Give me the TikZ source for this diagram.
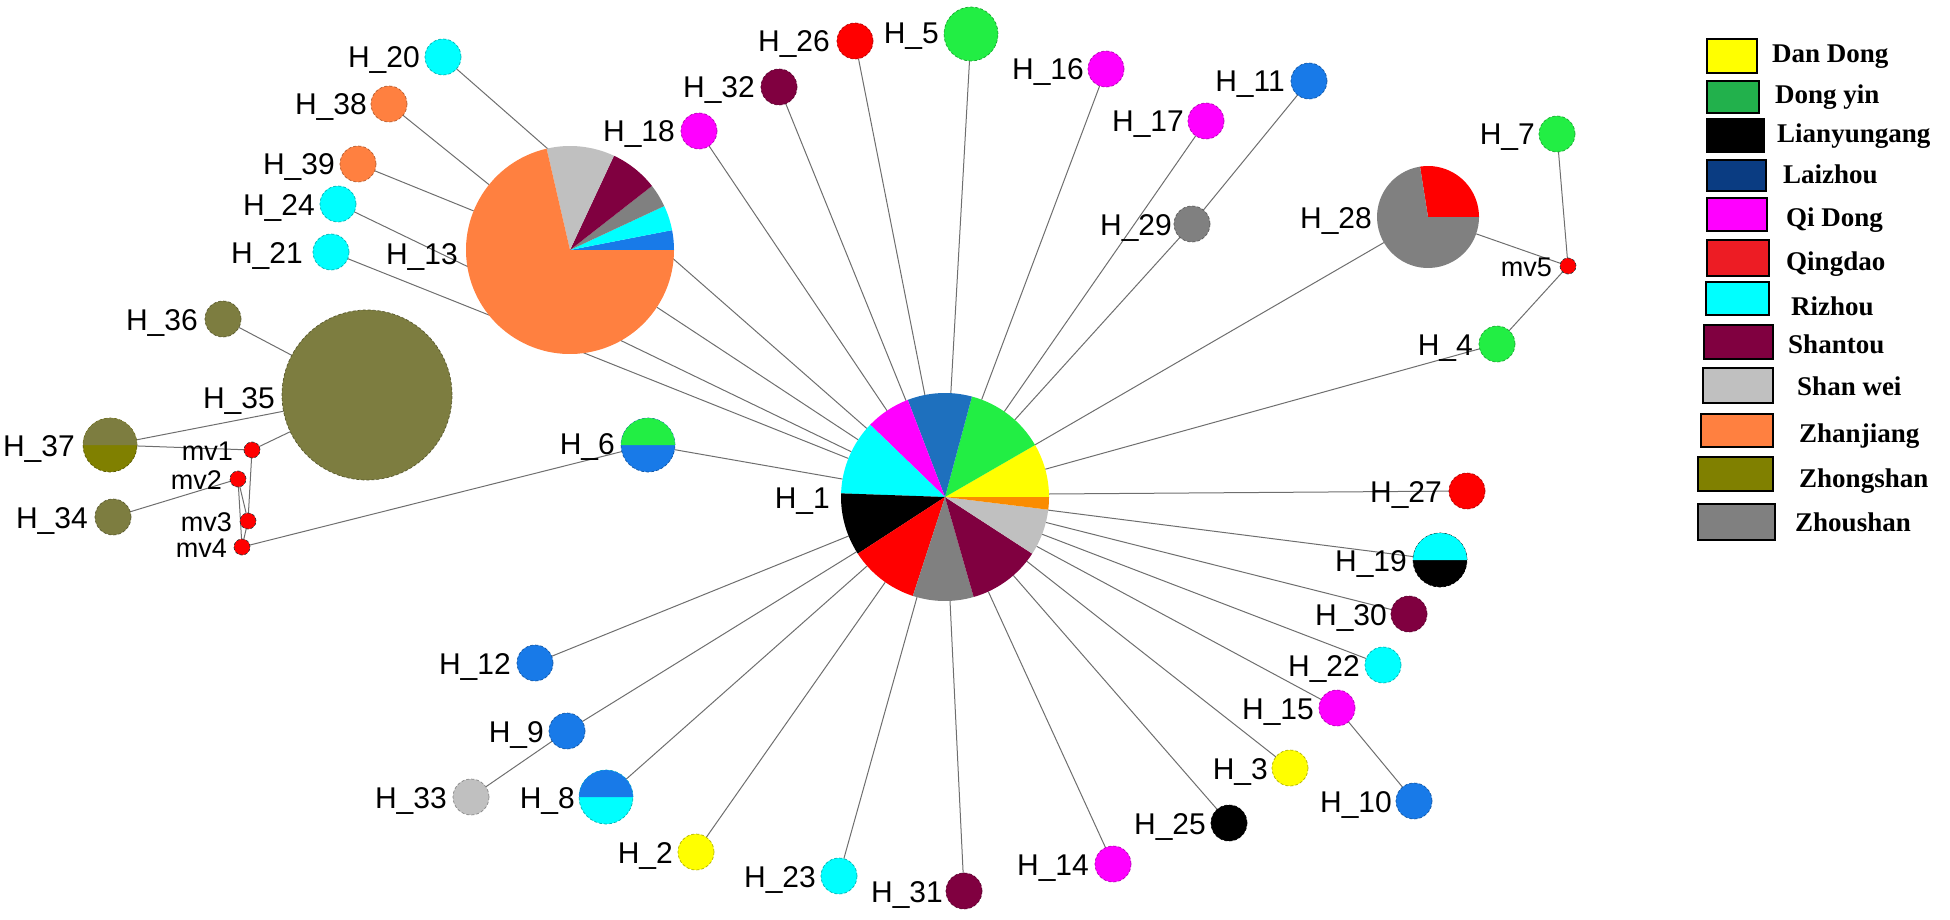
\documentclass[tikz,border=0pt]{standalone}
\usepackage{fontspec}
\setmainfont{Liberation Serif}
\newfontfamily\arialf{Liberation Sans}
\usetikzlibrary{backgrounds}
\definecolor{cYel}{RGB}{255,255,0}
\definecolor{cGrn}{RGB}{34,238,68}
\definecolor{cGrnL}{RGB}{34,177,76}
\definecolor{cBlu}{RGB}{24,122,232}
\definecolor{cBluP}{RGB}{30,112,190}
\definecolor{cBluL}{RGB}{10,60,130}
\definecolor{cMag}{RGB}{255,0,255}
\definecolor{cRed}{RGB}{255,0,0}
\definecolor{cRedL}{RGB}{237,28,36}
\definecolor{cCya}{RGB}{0,255,255}
\definecolor{cMar}{RGB}{128,0,64}
\definecolor{cLgr}{RGB}{192,192,192}
\definecolor{cOra}{RGB}{255,128,64}
\definecolor{cOraP}{RGB}{250,140,0}
\definecolor{cOli}{RGB}{125,125,64}
\definecolor{cOliD}{RGB}{128,128,0}
\definecolor{cGry}{RGB}{128,128,128}
\definecolor{cEdge}{RGB}{110,110,110}
\newcommand\pslice[5]{\fill[#5] (#1) -- ++(-#2:#4) arc[start angle=-#2, end angle=-#3, radius=#4] -- cycle;}
\newcommand\tophalf[3]{\fill[#3] (#1.east) arc[start angle=0, end angle=-180, radius=#2] -- cycle;}
\begin{document}
\begin{tikzpicture}[x=1pt,y=-1pt,
  hap/.style={circle, inner sep=0pt, outer sep=0pt, fill=#1, draw=#1!70!black, line width=0.7pt, densely dashed},
  r18/.style={minimum size=36pt},
  r27/.style={minimum size=54pt},
  r8/.style={minimum size=16pt},
  pienode/.style={circle, inner sep=0pt, outer sep=0pt, minimum size=#1},
  lab/.style={font=\arialf\fontsize{30}{30}\selectfont, inner sep=0pt, anchor=base east},
  mvlab/.style={font=\arialf\fontsize{27}{27}\selectfont, inner sep=0pt, anchor=base east},
  conn/.style={draw=cEdge, line width=1pt},
  legbox/.style={draw=black, line width=2pt, inner sep=0pt, outer sep=0pt},
  legt/.style={font=\bfseries\fontsize{27}{27}\selectfont, inner sep=0pt, anchor=base west}
]
\useasboundingbox (0,0) rectangle (1950,920);

% ---------- pies ----------
\node[pienode=208pt] (H1) at (945,497) {};
\pslice{H1.center}{0}{30}{104}{cYel}
\pslice{H1.center}{30}{75}{104}{cGrn}
\pslice{H1.center}{75}{111}{104}{cBluP}
\pslice{H1.center}{111}{136}{104}{cMag}
\pslice{H1.center}{136}{178}{104}{cCya}
\pslice{H1.center}{178}{213}{104}{black}
\pslice{H1.center}{213}{252}{104}{cRed}
\pslice{H1.center}{252}{286}{104}{cGry}
\pslice{H1.center}{286}{327}{104}{cMar}
\pslice{H1.center}{327}{353}{104}{cLgr}
\pslice{H1.center}{353}{360}{104}{cOraP}

\node[pienode=208pt] (H13) at (570,250) {};
\pslice{H13.center}{0}{11}{104}{cBlu}
\pslice{H13.center}{11}{25}{104}{cCya}
\pslice{H13.center}{25}{38}{104}{cGry}
\pslice{H13.center}{38}{65}{104}{cMar}
\pslice{H13.center}{65}{103}{104}{cLgr}
\pslice{H13.center}{103}{360}{104}{cOra}

\node[pienode=102pt] (H28) at (1428,217) {};
\pslice{H28.center}{0}{99}{51}{cRed}
\pslice{H28.center}{99}{360}{51}{cGry}

\node[hap=cOli, minimum size=170pt] (H35) at (367,395) {};

% ---------- two-colour nodes ----------
\node[hap=cBlu, r27] (H6) at (648,445) {};
\tophalf{H6}{27}{cGrn}
\node[hap=cCya, r27] (H8) at (606,797) {};
\tophalf{H8}{27}{cBlu}
\node[hap=black, r27] (H19) at (1440,560) {};
\tophalf{H19}{27}{cCya}
\node[hap=cOliD, r27] (H37) at (110,445) {};
\tophalf{H37}{27}{cOli}
\node[hap=cGrn, r27] (H5) at (971,34) {};

% ---------- small nodes ----------
\node[hap=cCya, r18] (H20) at (443,57) {};
\node[hap=cOra, r18] (H38) at (389,104) {};
\node[hap=cOra, r18] (H39) at (358,164) {};
\node[hap=cCya, r18] (H24) at (338,204) {};
\node[hap=cCya, r18] (H21) at (331,252) {};
\node[hap=cOli, r18] (H36) at (223,319) {};
\node[hap=cOli, r18] (H34) at (113,517) {};
\node[hap=cMag, r18] (H18) at (699,131) {};
\node[hap=cMar, r18] (H32) at (779,87) {};
\node[hap=cRed, r18] (H26) at (855,41) {};
\node[hap=cMag, r18] (H16) at (1106,69) {};
\node[hap=cMag, r18] (H17) at (1206,121) {};
\node[hap=cBlu, r18] (H11) at (1309,81) {};
\node[hap=cGry, r18] (H29) at (1192,224) {};
\node[hap=cGrn, r18] (H7) at (1557,134) {};
\node[hap=cGrn, r18] (H4) at (1497,344) {};
\node[hap=cRed, r18] (H27) at (1467,491) {};
\node[hap=cMar, r18] (H30) at (1409,614) {};
\node[hap=cCya, r18] (H22) at (1383,665) {};
\node[hap=cMag, r18] (H15) at (1337,708) {};
\node[hap=cBlu, r18] (H10) at (1414,801) {};
\node[hap=cYel, r18] (H3) at (1290,768) {};
\node[hap=black, r18] (H25) at (1229,823) {};
\node[hap=cMag, r18] (H14) at (1113,864) {};
\node[hap=cMar, r18] (H31) at (964,891) {};
\node[hap=cCya, r18] (H23) at (839,876) {};
\node[hap=cYel, r18] (H2) at (696,852) {};
\node[hap=cLgr, r18] (H33) at (471,797) {};
\node[hap=cBlu, r18] (H9) at (567,731) {};
\node[hap=cBlu, r18] (H12) at (535,663) {};

\node[hap=cRed, r8, draw=black!80] (mv1) at (252,450) {};
\node[hap=cRed, r8, draw=black!80] (mv2) at (238,479) {};
\node[hap=cRed, r8, draw=black!80] (mv3) at (248,521) {};
\node[hap=cRed, r8, draw=black!80] (mv4) at (242,547) {};
\node[hap=cRed, r8, draw=black!80] (mv5) at (1568,266) {};

% ---------- connectors ----------
\begin{pgfonlayer}{background}
\foreach \n in {H20,H24,H21,H13,H18,H32,H26,H5,H16,H17,H29,H28,H4,H19,H30,H22,H15,H3,H25,H14,H31,H23,H2,H8,H9,H12,H6}
  \draw[conn] (H1) -- (\n);
\draw[conn] (H1.center) ++(104,-3) coordinate (e27) (e27) -- (H27);
\draw[conn] (H13) -- (H38);
\draw[conn] (H13) -- (H39);
\draw[conn] (H29) -- (H11);
\draw[conn] (H28) -- (mv5);
\draw[conn] (mv5) -- (H7);
\draw[conn] (mv5) -- (H4);
\draw[conn] (H15) -- (H10);
\draw[conn] (H9) -- (H33);
\draw[conn] (H6) -- (mv4);
\draw[conn] (mv4) -- (mv3);
\draw[conn] (mv3) -- (mv1);
\draw[conn] (mv3) -- (mv2);
\draw[conn] (mv2) -- (mv4);
\draw[conn] (mv2) -- (H34);
\draw[conn] (mv1) -- (H37);
\draw[conn] (mv1) -- (H35);
\draw[conn] (H35) -- (H37);
\draw[conn] (H35) -- (H36);
\end{pgfonlayer}

% ---------- labels ----------
\node[lab] (lH1) at (830,508) {H\_1};
\node[lab] (lH13) at (458,264) {H\_13};
\node[lab] (lH35) at (275,408) {H\_35};
\node[lab] (lH28) at (1372,228) {H\_28};
\node[lab] (lH6) at (615,454) {H\_6};
\node[lab] (lH8) at (575,808) {H\_8};
\node[lab] (lH19) at (1407,571) {H\_19};
\node[lab] (lH37) at (75,456) {H\_37};
\node[lab] (lH5) at (939,44) {H\_5};
\node[lab] (lH20) at (420,68) {H\_20};
\node[lab] (lH38) at (367,115) {H\_38};
\node[lab] (lH39) at (335,175) {H\_39};
\node[lab] (lH24) at (315,215) {H\_24};
\node[lab] (lH21) at (303,263) {H\_21};
\node[lab] (lH36) at (198,330) {H\_36};
\node[lab] (lH34) at (88,528) {H\_34};
\node[lab] (lH18) at (675,142) {H\_18};
\node[lab] (lH32) at (755,98) {H\_32};
\node[lab] (lH26) at (830,52) {H\_26};
\node[lab] (lH16) at (1084,80) {H\_16};
\node[lab] (lH17) at (1184,132) {H\_17};
\node[lab] (lH11) at (1285,92) {H\_11};
\node[lab] (lH29) at (1172,235) {H\_29};
\node[lab] (lH7) at (1535,145) {H\_7};
\node[lab] (lH4) at (1473,355) {H\_4};
\node[lab] (lH27) at (1442,502) {H\_27};
\node[lab] (lH30) at (1387,625) {H\_30};
\node[lab] (lH22) at (1360,676) {H\_22};
\node[lab] (lH15) at (1314,719) {H\_15};
\node[lab] (lH10) at (1392,812) {H\_10};
\node[lab] (lH3) at (1268,779) {H\_3};
\node[lab] (lH25) at (1206,834) {H\_25};
\node[lab] (lH14) at (1089,875) {H\_14};
\node[lab] (lH31) at (943,902) {H\_31};
\node[lab] (lH23) at (816,887) {H\_23};
\node[lab] (lH2) at (673,863) {H\_2};
\node[lab] (lH33) at (447,808) {H\_33};
\node[lab] (lH9) at (544,742) {H\_9};
\node[lab] (lH12) at (511,674) {H\_12};
\node[mvlab] (lmv1) at (233,460) {mv1};
\node[mvlab] (lmv2) at (222,489) {mv2};
\node[mvlab] (lmv3) at (232,531) {mv3};
\node[mvlab] (lmv4) at (227,557) {mv4};
\node[mvlab] (lmv5) at (1552,276) {mv5};

% ---------- legend ----------
\node[legbox, fill=cYel, minimum width=50pt, minimum height=34pt] (lb1) at (1732,56) {};
\node[legt] (lt1) at (1772,63) {Dan Dong};
\node[legbox, fill=cGrnL, minimum width=52pt, minimum height=32pt] (lb2) at (1733,97) {};
\node[legt] (lt2) at (1775,104) {Dong yin};
\node[legbox, fill=black, minimum width=57pt, minimum height=33pt] (lb3) at (1735.5,136) {};
\node[legt] (lt3) at (1777,143) {Lianyungang};
\node[legbox, fill=cBluL, minimum width=59pt, minimum height=31pt] (lb4) at (1736.5,175.5) {};
\node[legt] (lt4) at (1783,183) {Laizhou};
\node[legbox, fill=cMag, minimum width=60pt, minimum height=33pt] (lb5) at (1737,214.5) {};
\node[legt] (lt5) at (1786,226) {Qi Dong};
\node[legbox, fill=cRedL, minimum width=62pt, minimum height=36pt] (lb6) at (1738,258) {};
\node[legt] (lt6) at (1786,270) {Qingdao};
\node[legbox, fill=cCya, minimum width=63pt, minimum height=33pt] (lb7) at (1737.5,298.5) {};
\node[legt] (lt7) at (1791,315) {Rizhou};
\node[legbox, fill=cMar, minimum width=69pt, minimum height=34pt] (lb8) at (1738.5,342) {};
\node[legt] (lt8) at (1788,353) {Shantou};
\node[legbox, fill=cLgr, minimum width=70pt, minimum height=35pt] (lb9) at (1738,385.5) {};
\node[legt] (lt9) at (1797,395) {Shan wei};
\node[legbox, fill=cOra, minimum width=72pt, minimum height=33pt] (lb10) at (1736.5,430.5) {};
\node[legt] (lt10) at (1799,442) {Zhanjiang};
\node[legbox, fill=cOliD, minimum width=75pt, minimum height=34pt] (lb11) at (1735.5,474) {};
\node[legt] (lt11) at (1799,487) {Zhongshan};
\node[legbox, fill=cGry, minimum width=77pt, minimum height=36pt] (lb12) at (1736.5,522) {};
\node[legt] (lt12) at (1795,531) {Zhoushan};
\end{tikzpicture}
\end{document}
